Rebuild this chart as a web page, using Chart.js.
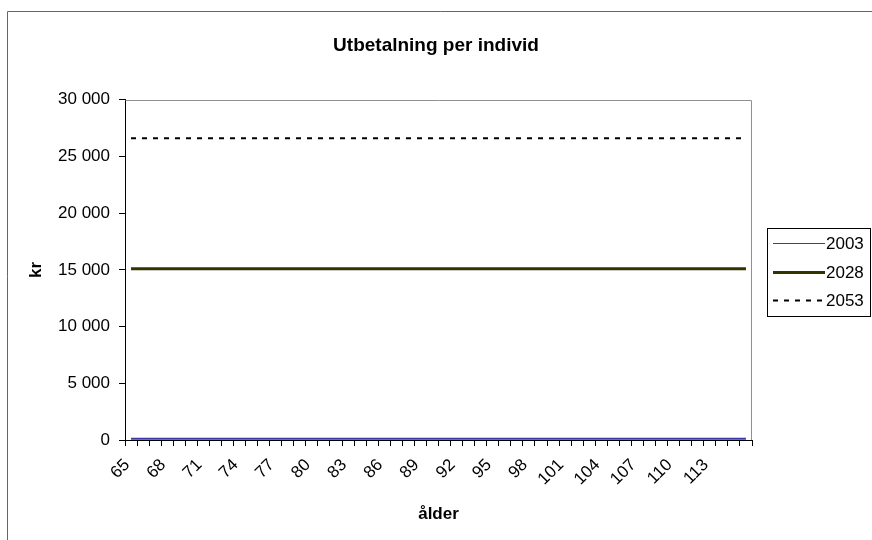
<!DOCTYPE html>
<html>
<head>
<meta charset="utf-8">
<script src="https://cdn.jsdelivr.net/npm/chart.js@4"></script>
<style>
  body { margin: 0; background: #fff; }
  canvas { display: block; }
</style>
</head>
<body>
<canvas id="myChart" width="872" height="540"></canvas>
<script>
const ages = ['65','66','67','68','69','70','71','72','73','74','75','76','77','78','79','80','81','82','83','84','85','86','87','88','89','90','91','92','93','94','95','96','97','98','99','100','101','102','103','104','105','106','107','108','109','110','111','112','113','114','115','116']
const s2003 = [120,120,120,120,120,120,120,120,120,120,120,120,120,120,120,120,120,120,120,120,120,120,120,120,120,120,120,120,120,120,120,120,120,120,120,120,120,120,120,120,120,120,120,120,120,120,120,120,120,120,120,120]
const s2028 = [15100,15100,15100,15100,15100,15100,15100,15100,15100,15100,15100,15100,15100,15100,15100,15100,15100,15100,15100,15100,15100,15100,15100,15100,15100,15100,15100,15100,15100,15100,15100,15100,15100,15100,15100,15100,15100,15100,15100,15100,15100,15100,15100,15100,15100,15100,15100,15100,15100,15100,15100,15100]
const s2053 = [26600,26600,26600,26600,26600,26600,26600,26600,26600,26600,26600,26600,26600,26600,26600,26600,26600,26600,26600,26600,26600,26600,26600,26600,26600,26600,26600,26600,26600,26600,26600,26600,26600,26600,26600,26600,26600,26600,26600,26600,26600,26600,26600,26600,26600,26600,26600,26600,26600,26600,26600,26600]
const seriesNames = ['2003', '2028', '2053']
const yTicks = [0, 5000, 10000, 15000, 20000, 25000, 30000]

const FONT = 'Arial, "Liberation Sans", sans-serif'

const fmt = (v) => String(v).replace(/\B(?=(\d{3})+(?!\d))/g, ' ')

// frame, plot border and legend box like the old Excel chart
const excelLook = {
    id: 'excelLook',
    afterDraw(chart) {
        const ctx = chart.ctx
        const a = chart.chartArea
        ctx.save()
        // outer chart frame
        ctx.strokeStyle = '#666'
        ctx.lineWidth = 1
        ctx.beginPath()
        ctx.moveTo(7.5, 545)
        ctx.lineTo(7.5, 11.5)
        ctx.lineTo(880, 11.5)
        ctx.stroke()
        // plot area top + right
        ctx.strokeStyle = '#909090'
        ctx.beginPath()
        ctx.moveTo(Math.round(a.left) + 0.5, Math.round(a.top) + 0.5)
        ctx.lineTo(Math.round(a.right) - 0.5, Math.round(a.top) + 0.5)
        ctx.lineTo(Math.round(a.right) - 0.5, Math.round(a.bottom))
        ctx.stroke()
        // legend
        ctx.strokeStyle = '#000'
        ctx.strokeRect(767.5, 228.5, 103, 88)
        ctx.font = '17px ' + FONT
        ctx.fillStyle = '#000'
        ctx.textBaseline = 'middle'
        const ys = [243, 272, 300]
        chart.data.datasets.forEach((ds, i) => {
            ctx.beginPath()
            ctx.strokeStyle = ds.borderColor
            ctx.lineWidth = i === 0 ? 1 : ds.borderWidth
            ctx.setLineDash(ds.borderDash || [])
            ctx.moveTo(773, ys[i] + 0.5)
            ctx.lineTo(825, ys[i] + 0.5)
            ctx.stroke()
            ctx.setLineDash([])
            ctx.fillText(ds.label, 826, ys[i] + 1)
        })
        ctx.restore()
    }
}

const ctx = document.getElementById('myChart')
new Chart(ctx, {
    type: 'line',
    data: {
        labels: ages,
        datasets: [
            { label: seriesNames[0], data: s2003, borderColor: '#3a3aa6', borderWidth: 2, pointRadius: 0, tension: 0 },
            { label: seriesNames[1], data: s2028, borderColor: '#333300', borderWidth: 3, pointRadius: 0, tension: 0 },
            { label: seriesNames[2], data: s2053, borderColor: '#000000', borderWidth: 2, borderDash: [5, 6], pointRadius: 0, tension: 0 }
        ]
    },
    options: {
        responsive: false,
        animation: false,
        devicePixelRatio: 1,
        layout: { padding: 0 },
        plugins: {
            legend: { display: false },
            tooltip: { enabled: false },
            title: {
                display: true,
                text: 'Utbetalning per individ',
                color: '#000',
                font: { family: FONT, size: 19, weight: 'bold', lineHeight: 1.2 },
                padding: { top: 34, bottom: 43 }
            }
        },
        scales: {
            x: {
                offset: true,
                grid: { display: true, offset: true, drawOnChartArea: false, drawTicks: true, tickLength: 6, color: '#000' },
                border: { display: true, color: '#000', width: 1 },
                ticks: {
                    autoSkip: false,
                    maxRotation: 45,
                    minRotation: 45,
                    padding: 9,
                    labelOffset: -4,
                    color: '#000',
                    font: { family: FONT, size: 17 },
                    // every third age, the last one is left out like in the original
                    callback: function (val, i) { return (i % 3 === 0 && i < ages.length - 1) ? ages[i] : '' }
                },
                title: {
                    display: true,
                    text: 'ålder',
                    color: '#000',
                    font: { family: FONT, size: 17, weight: 'bold', lineHeight: 1.2 },
                    padding: { top: 0, bottom: 15 }
                },
                afterFit: (scale) => { scale.height = 100 }
            },
            y: {
                min: 0,
                max: 30000,
                afterBuildTicks: (scale) => { scale.ticks = yTicks.map(v => ({ value: v })) },
                grid: { display: true, drawOnChartArea: false, drawTicks: true, tickLength: 6, color: '#000' },
                border: { display: true, color: '#000', width: 1 },
                ticks: {
                    padding: 9,
                    color: '#000',
                    font: { family: FONT, size: 17 },
                    callback: (v) => fmt(v)
                },
                title: {
                    display: true,
                    text: 'kr',
                    color: '#000',
                    font: { family: FONT, size: 17, weight: 'bold', lineHeight: 1.2 },
                    padding: { top: 26, bottom: 0 }
                },
                afterFit: (scale) => { scale.width = 125 }
            },
            yRight: {
                position: 'right',
                display: true,
                grid: { display: false },
                border: { display: false },
                ticks: { display: false },
                afterFit: (scale) => { scale.width = 120 }
            }
        }
    },
    plugins: [excelLook]
})
</script>
</body>
</html>
